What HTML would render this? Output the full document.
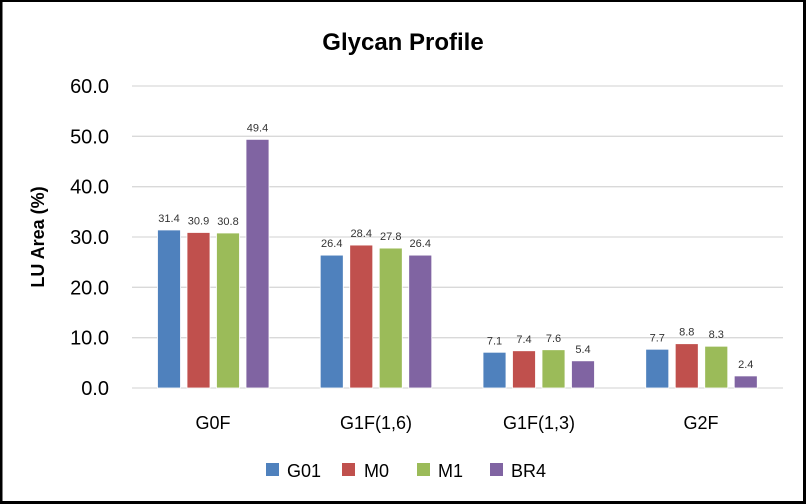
<!DOCTYPE html>
<html><head><meta charset="utf-8"><style>
html,body{margin:0;padding:0;background:#fff}
svg{display:block}
text{font-family:"Liberation Sans",Calibri,sans-serif}
</style></head><body>
<svg width="806" height="504" viewBox="0 0 806 504" xmlns="http://www.w3.org/2000/svg">
<rect x="0" y="0" width="806" height="504" fill="#fff"/>
<rect x="0" y="0" width="806" height="2" fill="#000"/>
<rect x="0" y="0" width="2.5" height="504" fill="#000"/>
<rect x="803" y="0" width="3" height="504" fill="#000"/>
<rect x="0" y="501" width="806" height="3" fill="#000"/>
<text x="403" y="50" font-size="24" font-weight="bold" text-anchor="middle" fill="#000">Glycan Profile</text>
<g stroke="#d9d9d9" stroke-width="1.3">
<line x1="132" x2="783" y1="86" y2="86"/>
<line x1="132" x2="783" y1="136.3" y2="136.3"/>
<line x1="132" x2="783" y1="186.7" y2="186.7"/>
<line x1="132" x2="783" y1="237" y2="237"/>
<line x1="132" x2="783" y1="287.3" y2="287.3"/>
<line x1="132" x2="783" y1="337.7" y2="337.7"/>
<line x1="132" x2="783" y1="388" y2="388"/>
</g>
<g font-size="20" text-anchor="end" fill="#000">
<text x="109" y="93">60.0</text>
<text x="109" y="143.3">50.0</text>
<text x="109" y="193.7">40.0</text>
<text x="109" y="244">30.0</text>
<text x="109" y="294.3">20.0</text>
<text x="109" y="344.7">10.0</text>
<text x="109" y="395">0.0</text>
</g>
<text transform="translate(44,237) rotate(-90)" font-size="18" font-weight="bold" text-anchor="middle" fill="#000">LU Area (%)</text>
<g stroke="#fff" stroke-width="0.8">
<rect x="157.5" y="229.96" width="23" height="158.04" fill="#4F81BD"/>
<rect x="187" y="232.48" width="23" height="155.52" fill="#C0504D"/>
<rect x="216.5" y="232.98" width="23" height="155.02" fill="#9BBB59"/>
<rect x="246" y="139.37" width="23" height="248.63" fill="#8064A2"/>
<rect x="320.25" y="255.13" width="23" height="132.87" fill="#4F81BD"/>
<rect x="349.75" y="245.06" width="23" height="142.94" fill="#C0504D"/>
<rect x="379.25" y="248.08" width="23" height="139.92" fill="#9BBB59"/>
<rect x="408.75" y="255.13" width="23" height="132.87" fill="#8064A2"/>
<rect x="483" y="352.27" width="23" height="35.73" fill="#4F81BD"/>
<rect x="512.5" y="350.76" width="23" height="37.24" fill="#C0504D"/>
<rect x="542" y="349.75" width="23" height="38.25" fill="#9BBB59"/>
<rect x="571.5" y="360.82" width="23" height="27.18" fill="#8064A2"/>
<rect x="645.75" y="349.25" width="23" height="38.75" fill="#4F81BD"/>
<rect x="675.25" y="343.71" width="23" height="44.29" fill="#C0504D"/>
<rect x="704.75" y="346.23" width="23" height="41.77" fill="#9BBB59"/>
<rect x="734.25" y="375.92" width="23" height="12.08" fill="#8064A2"/>
</g>
<g font-size="11" text-anchor="middle" fill="#333">
<text x="169" y="222">31.4</text>
<text x="198.5" y="224.5">30.9</text>
<text x="228" y="225">30.8</text>
<text x="257.5" y="131.4">49.4</text>
<text x="331.75" y="247.1">26.4</text>
<text x="361.25" y="237.1">28.4</text>
<text x="390.75" y="240.1">27.8</text>
<text x="420.25" y="247.1">26.4</text>
<text x="494.5" y="344.3">7.1</text>
<text x="524" y="342.8">7.4</text>
<text x="553.5" y="341.8">7.6</text>
<text x="583" y="352.8">5.4</text>
<text x="657.25" y="341.3">7.7</text>
<text x="686.75" y="335.7">8.8</text>
<text x="716.25" y="338.2">8.3</text>
<text x="745.75" y="367.9">2.4</text>
</g>
<g font-size="18" text-anchor="middle" fill="#000">
<text x="213" y="429">G0F</text>
<text x="376" y="429">G1F(1,6)</text>
<text x="539" y="429">G1F(1,3)</text>
<text x="701" y="429">G2F</text>
</g>
<g font-size="18" fill="#000">
<rect x="266" y="463" width="13" height="13" fill="#4F81BD"/><text x="287" y="477">G01</text>
<rect x="342" y="463" width="13" height="13" fill="#C0504D"/><text x="364" y="477">M0</text>
<rect x="417" y="463" width="13" height="13" fill="#9BBB59"/><text x="438" y="477">M1</text>
<rect x="490" y="463" width="13" height="13" fill="#8064A2"/><text x="511" y="477">BR4</text>
</g>
</svg>
</body></html>
